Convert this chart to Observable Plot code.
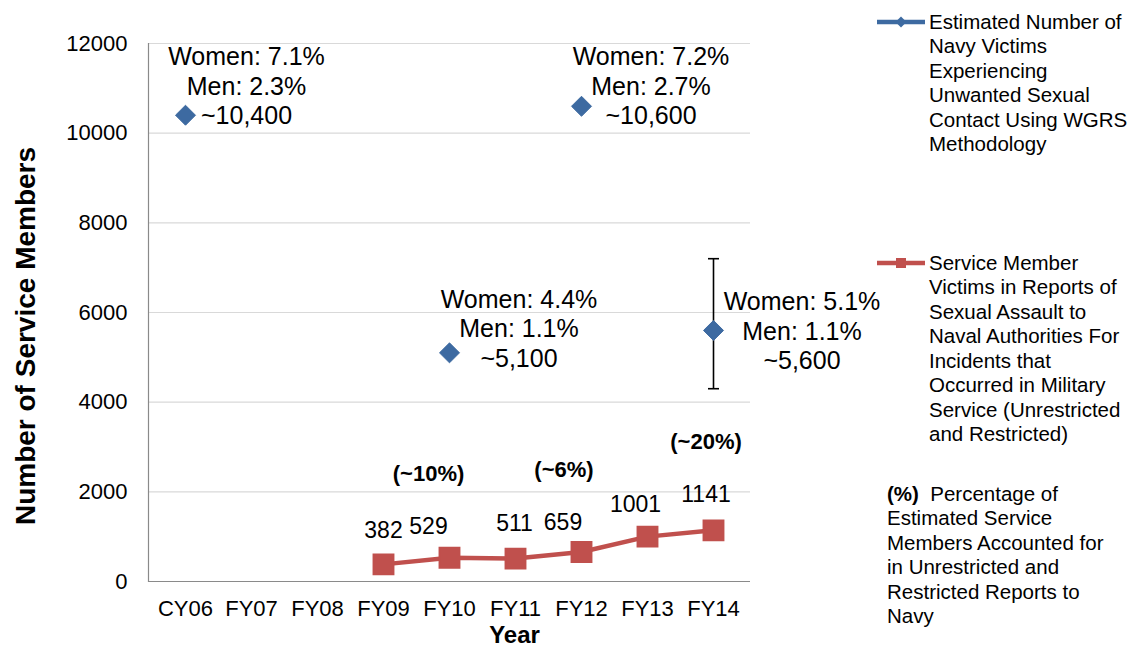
<!DOCTYPE html>
<html>
<head>
<meta charset="utf-8">
<script src="https://cdn.jsdelivr.net/npm/d3@7"></script>
<script src="https://cdn.jsdelivr.net/npm/@observablehq/plot@0.6"></script>
<style>
  html, body { margin: 0; padding: 0; background: #fff; }
  #wrap { position: relative; width: 1137px; height: 648px; overflow: hidden; font-family: "Liberation Sans", Arial, sans-serif; color: #000; }
  .leg { position: absolute; font-size: 20.5px; line-height: 24.5px; white-space: nowrap; }
  .sw { position: absolute; }
</style>
</head>
<body>
<div id="wrap"></div>
<script>
// ---- data ----
const categories = ["CY06", "FY07", "FY08", "FY09", "FY10", "FY11", "FY12", "FY13", "FY14"];
const yTicks = [0, 2000, 4000, 6000, 8000, 10000, 12000];

// Estimated number of Navy victims (WGRS methodology)
const estYears = ["CY06", "FY10", "FY12", "FY14"];
const estValues = [10400, 5100, 10600, 5600];
const estWomen = ["7.1%", "4.4%", "7.2%", "5.1%"];
const estMen = ["2.3%", "1.1%", "2.7%", "1.1%"];
const estLabels = ["~10,400", "~5,100", "~10,600", "~5,600"];

// Error bar on FY14 estimate
const errYears = ["FY14"];
const errLow = [4300];
const errHigh = [7200];

// Service member victims in reports
const reportYears = ["FY09", "FY10", "FY11", "FY12", "FY13", "FY14"];
const reportValues = [382, 529, 511, 659, 1001, 1141];

// Percentage accounted for in reports
const pctYears = ["FY10", "FY12", "FY14"];
const pctLabels = ["(~10%)", "(~6%)", "(~20%)"];

const blue = "#3D6AA1";
const red = "#C0504D";
const FONT = "Liberation Sans, Arial, sans-serif";

const estIdx = d3.range(estYears.length);
const repIdx = d3.range(reportYears.length);
const pctVal = pctYears.map(c => reportValues[reportYears.indexOf(c)]);

const capSymbol = { draw(ctx) { ctx.moveTo(-5.5, 0); ctx.lineTo(5.5, 0); } };

const estLabel = (i, dx, dy) => Plot.text([i], {
  x: i => estYears[i], y: i => estValues[i],
  text: i => `Women: ${estWomen[i]}\nMen: ${estMen[i]}\n${estLabels[i]}`,
  dx, dy, fontSize: 25, lineHeight: 1.18, textAnchor: "middle", fill: "#000"
});
const repLabel = (i, dx, dy) => Plot.text([i], {
  x: i => reportYears[i], y: i => reportValues[i], text: i => String(reportValues[i]),
  dx, dy, fontSize: 23, textAnchor: "middle", fill: "#000"
});
const pctLabel = (i, dx, dy) => Plot.text([i], {
  x: i => pctYears[i], y: i => pctVal[i], text: i => pctLabels[i],
  dx, dy, fontSize: 22, fontWeight: "bold", textAnchor: "middle", fill: "#000"
});

const chart = Plot.plot({
  width: 1137,
  height: 648,
  marginLeft: 148,
  marginRight: 387,
  marginTop: 43,
  marginBottom: 67,
  style: { fontFamily: FONT, fontSize: "22px", color: "#000", background: "transparent", overflow: "visible" },
  x: { type: "point", domain: categories, padding: 0.5, label: null },
  y: { domain: [0, 12000], label: null },
  marks: [
    Plot.gridY(yTicks, { stroke: "#d9d9d9", strokeOpacity: 1, strokeWidth: 1.2 }),
    Plot.ruleY([0], { stroke: "#8a8a8a", strokeWidth: 1.2 }),
    Plot.frame({ anchor: "left", stroke: "#8a8a8a", strokeWidth: 1.2 }),
    Plot.axisY(yTicks, { tickSize: 0, tickPadding: 21, fontSize: 22, tickFormat: d => String(d), fill: "#000" }),
    Plot.axisX({ tickSize: 0, tickPadding: 19, fontSize: 22, fill: "#000" }),
    // error bar
    Plot.ruleX(errYears.map((c, i) => i), { x: i => errYears[i], y1: i => errLow[i], y2: i => errHigh[i], stroke: "#000", strokeWidth: 1.6 }),
    Plot.dot(errYears.map((c, i) => i), { x: i => errYears[i], y: i => errLow[i], symbol: capSymbol, r: 5, stroke: "#000", strokeWidth: 1.6, fill: "none" }),
    Plot.dot(errYears.map((c, i) => i), { x: i => errYears[i], y: i => errHigh[i], symbol: capSymbol, r: 5, stroke: "#000", strokeWidth: 1.6, fill: "none" }),
    // estimated diamonds
    Plot.dot(estIdx, { x: i => estYears[i], y: i => estValues[i], symbol: "diamond2", r: 9, fill: blue, stroke: blue, strokeWidth: 1 }),
    // report series
    Plot.line(repIdx, { x: i => reportYears[i], y: i => reportValues[i], stroke: red, strokeWidth: 4.5 }),
    Plot.dot(repIdx, { x: i => reportYears[i], y: i => reportValues[i], symbol: "square", r: 11.5, fill: red, stroke: red }),
    // estimate labels
    estLabel(0, 61, -30),
    estLabel(1, 69.5, -25),
    estLabel(2, 69.5, -21),
    estLabel(3, 88.5, 0),
    // report labels
    repLabel(0, 0, -34),
    repLabel(1, -21, -31),
    repLabel(2, -1, -35),
    repLabel(3, -18.5, -29.5),
    repLabel(4, -12, -32),
    repLabel(5, -7.5, -36),
    // percentage labels
    pctLabel(0, -21, -84),
    pctLabel(1, -17.5, -82.5),
    pctLabel(2, -7.5, -88),
    // axis titles
    Plot.text(["Number of Service Members"], { frameAnchor: "left", text: d => d, rotate: -90, dx: -122, dy: 23.5, fontSize: 28, fontWeight: "bold", textAnchor: "middle", fill: "#000" }),
    Plot.text(["Year"], { frameAnchor: "bottom", text: d => d, dx: 65, dy: 61, fontSize: 24, fontWeight: "bold", textAnchor: "middle", fill: "#000" })
  ]
});

const wrap = document.getElementById("wrap");
wrap.appendChild(chart);

// ---- legend ----
function addSwatch(y, color, shape) {
  const ns = "http://www.w3.org/2000/svg";
  const s = document.createElementNS(ns, "svg");
  s.setAttribute("class", "sw");
  s.setAttribute("width", 52); s.setAttribute("height", 16);
  s.style.left = "875px"; s.style.top = (y - 8) + "px";
  const l = document.createElementNS(ns, "line");
  l.setAttribute("x1", 2); l.setAttribute("x2", 50); l.setAttribute("y1", 8); l.setAttribute("y2", 8);
  l.setAttribute("stroke", color); l.setAttribute("stroke-width", 4.5);
  s.appendChild(l);
  const p = document.createElementNS(ns, "path");
  if (shape === "diamond") p.setAttribute("d", "M26,2.5L31.5,8L26,13.5L20.5,8Z");
  else p.setAttribute("d", "M21,3H31V13H21Z");
  p.setAttribute("fill", color);
  s.appendChild(p);
  wrap.appendChild(s);
}
function addText(x, y, html) {
  const d = document.createElement("div");
  d.className = "leg";
  d.style.left = x + "px"; d.style.top = (y - 12.25) + "px";
  d.innerHTML = html;
  wrap.appendChild(d);
}
addSwatch(22, blue, "diamond");
addText(929, 22, "Estimated Number of<br>Navy Victims<br>Experiencing<br>Unwanted Sexual<br>Contact Using WGRS<br>Methodology");
addSwatch(263, red, "square");
addText(929, 263, "Service Member<br>Victims in Reports of<br>Sexual Assault to<br>Naval Authorities For<br>Incidents that<br>Occurred in Military<br>Service (Unrestricted<br>and Restricted)");
addText(887, 494, "<b>(%)</b>&nbsp; Percentage of<br>Estimated Service<br>Members Accounted for<br>in Unrestricted and<br>Restricted Reports to<br>Navy");
</script>
</body>
</html>
